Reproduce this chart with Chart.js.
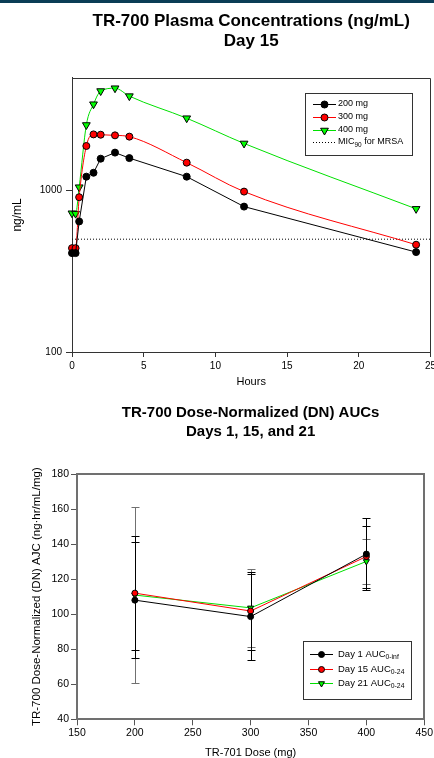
<!DOCTYPE html>
<html>
<head>
<meta charset="utf-8">
<script src="https://cdn.jsdelivr.net/npm/chart.js"></script>
<style>
  html, body { margin: 0; padding: 0; background: #fff; overflow: hidden; width: 434px; height: 758px; }
  #bar { position: absolute; left: 0; top: 0; width: 434px; height: 3px; background: #0b3d56; z-index: 2; }
  #plasma { position: absolute; left: 0; top: 0; }
  #auc { position: absolute; left: 0; top: 392px; }
</style>
</head>
<body>
<div id="bar"></div>
<canvas id="plasma" width="439" height="395"></canvas>
<canvas id="auc" width="435" height="372"></canvas>
<script>
// Day 15 plasma concentrations (ng/mL)
const hours = [0, 0.25, 0.5, 1, 1.5, 2, 3, 4, 8, 12, 24];
const conc200 = [410, 410, 644, 1220, 1290, 1577, 1720, 1590, 1220, 796, 416];
const conc300 = [440, 440, 910, 1890, 2230, 2220, 2200, 2160, 1490, 986, 462];
const conc400 = [724, 720, 1050, 2550, 3430, 4140, 4310, 3850, 2810, 1960, 771];
const micHours = [0, 25];
const mic90 = [500, 500];
const doseLabels = ['200 mg', '300 mg', '400 mg'];
const micLabel = ['MIC', '90', ' for MRSA'];
const plasmaYTicks = [100, 1000];

// dose-normalized AUCs (ng·hr/mL/mg)
const doses = [200, 300, 400];
const day1Auc = [108, 98.6, 134.3];
const day1Sd = [33, 24.5, 20.4];
const day15Auc = [112, 101.8, 132.9];
const day15Sd = [32.5, 22.4, 17.7];
const day21Auc = [110.9, 103.6, 130.1];
const day21Sd = [50.3, 22.3, 13];
const aucLabels = [['Day 1 AUC', '0-inf'], ['Day 15 AUC', '0-24'], ['Day 21 AUC', '0-24']];

const FONT = 'Arial, "Liberation Sans", Helvetica, sans-serif';
Chart.defaults.font.family = FONT;
Chart.defaults.color = '#000';

const pts = (xs, ys) => xs.map((x, i) => ({ x: x, y: ys[i] }));

// top + right edges of the plot box
const frame = {
  id: 'frame',
  beforeDatasetsDraw(chart, args, opts) {
    const a = chart.chartArea, ctx = chart.ctx;
    ctx.save();
    ctx.strokeStyle = opts.color;
    ctx.lineWidth = opts.width;
    const off = opts.width % 2 ? 0.5 : 0;
    const t = Math.round(a.top) + off, r = Math.round(a.right) + off;
    ctx.beginPath();
    ctx.moveTo(Math.round(a.left), t);
    ctx.lineTo(r, t);
    ctx.lineTo(r, Math.round(a.bottom));
    ctx.stroke();
    ctx.restore();
  }
};

const errorBars = {
  id: 'errorBars',
  beforeDatasetsDraw(chart) {
    const ctx = chart.ctx, xs = chart.scales.x, ys = chart.scales.y;
    const list = chart.data.datasets.slice().reverse();
    list.forEach(ds => {
      if (!ds.errors) return;
      ctx.save();
      ctx.strokeStyle = ds.errorColor;
      ctx.lineWidth = 1;
      ds.data.forEach((p, j) => {
        const px = Math.round(xs.getPixelForValue(p.x)) + 0.5;
        const hi = Math.round(ys.getPixelForValue(p.y + ds.errors[j])) + 0.5;
        const lo = Math.round(ys.getPixelForValue(p.y - ds.errors[j])) + 0.5;
        ctx.beginPath();
        ctx.moveTo(px, hi); ctx.lineTo(px, lo);
        ctx.moveTo(px - 4, hi); ctx.lineTo(px + 4, hi);
        ctx.moveTo(px - 4, lo); ctx.lineTo(px + 4, lo);
        ctx.stroke();
      });
      ctx.restore();
    });
  }
};

// legend box with subscripts
const boxLegend = {
  id: 'boxLegend',
  afterDraw(chart, args, o) {
    const ctx = chart.ctx;
    ctx.save();
    ctx.fillStyle = '#fff';
    ctx.fillRect(o.x, o.y, o.w, o.h);
    ctx.strokeStyle = '#333';
    ctx.lineWidth = 1;
    ctx.strokeRect(o.x + 0.5, o.y + 0.5, o.w, o.h);
    o.rows.forEach((row, i) => {
      const y = o.rowY[i];
      const ds = chart.data.datasets[i];
      ctx.strokeStyle = ds.borderColor;
      ctx.lineWidth = 1;
      ctx.setLineDash(ds.borderDash || []);
      ctx.beginPath();
      ctx.moveTo(o.lineX0, y + 0.5);
      ctx.lineTo(o.lineX1, y + 0.5);
      ctx.stroke();
      ctx.setLineDash([]);
      if (ds.pointRadius > 0) {
        ctx.fillStyle = ds.pointBackgroundColor;
        ctx.strokeStyle = '#000';
        Chart.helpers.drawPoint(ctx, {
          pointStyle: ds.pointStyle || 'circle',
          rotation: ds.pointRotation || 0,
          radius: ds.pointRadius,
          borderWidth: 1
        }, (o.lineX0 + o.lineX1) / 2, y + 0.5);
      }
      ctx.fillStyle = '#000';
      ctx.textBaseline = 'middle';
      ctx.font = o.size + 'px ' + FONT;
      let x = o.textX;
      ctx.fillText(row[0], x, y);
      x += ctx.measureText(row[0]).width;
      if (row[1]) {
        ctx.font = (o.size * 0.72) + 'px ' + FONT;
        ctx.fillText(row[1], x, y + o.size * 0.35);
        x += ctx.measureText(row[1]).width;
      }
      if (row[2]) {
        ctx.font = o.size + 'px ' + FONT;
        ctx.fillText(row[2], x, y);
      }
    });
    ctx.restore();
  }
};

new Chart(document.getElementById('plasma'), {
  type: 'line',
  data: {
    datasets: [
      { label: doseLabels[0], data: pts(hours, conc200), borderColor: '#000', pointBackgroundColor: '#000',
        pointBorderColor: '#000', pointRadius: 3.5, borderWidth: 1, tension: 0, clip: false },
      { label: doseLabels[1], data: pts(hours, conc300), borderColor: '#ff0000', pointBackgroundColor: '#ff0000',
        pointBorderColor: '#000', pointRadius: 3.5, borderWidth: 1, cubicInterpolationMode: 'monotone', clip: false },
      { label: doseLabels[2], data: pts(hours, conc400), borderColor: '#00e000', pointBackgroundColor: '#00ff00',
        pointBorderColor: '#000', pointStyle: 'triangle', pointRotation: 180, pointRadius: 4.5, borderWidth: 1,
        cubicInterpolationMode: 'monotone', clip: false },
      { label: micLabel.join(''), data: pts(micHours, mic90), borderColor: '#000', borderDash: [1, 2],
        borderWidth: 1, pointRadius: 0 }
    ]
  },
  options: {
    responsive: false,
    animation: false,
    plugins: {
      legend: { display: false },
      tooltip: { enabled: false },
      title: {
        display: true, fullSize: false, color: '#000',
        text: ['TR-700 Plasma Concentrations (ng/mL)', 'Day 15'],
        font: { size: 17, weight: 'bold', lineHeight: 1.2 },
        padding: { top: 11, bottom: 26 }
      },
      frame: { color: '#333', width: 1 },
      boxLegend: {
        x: 305, y: 93, w: 107, h: 62, rowY: [104, 117, 130, 142],
        lineX0: 313, lineX1: 336, textX: 338, size: 9,
        rows: [[doseLabels[0]], [doseLabels[1]], [doseLabels[2]], micLabel]
      }
    },
    scales: {
      x: {
        type: 'linear', min: 0, max: 25,
        ticks: { stepSize: 5, font: { size: 10 }, padding: 3, maxRotation: 0, color: '#000' },
        grid: { drawOnChartArea: false, tickLength: 5, color: '#333' },
        border: { color: '#333' },
        title: { display: true, text: 'Hours', font: { size: 11 }, padding: { top: 0, bottom: 6 } },
        afterFit: s => { s.height = 43; }
      },
      y: {
        type: 'logarithmic', min: 100, max: 5000,
        afterBuildTicks: s => { s.ticks = plasmaYTicks.map(v => ({ value: v })); },
        ticks: { callback: v => String(v), font: { size: 10 }, padding: 4, color: '#000' },
        grid: { drawOnChartArea: false, tickLength: 6, color: '#333' },
        border: { color: '#333' },
        title: { display: true, text: 'ng/mL', font: { size: 12 }, padding: { top: 10, bottom: 0 } },
        afterFit: s => { s.width = 72; }
      }
    }
  },
  plugins: [frame, boxLegend]
});

new Chart(document.getElementById('auc'), {
  type: 'line',
  data: {
    datasets: [
      { label: 'Day 1', data: pts(doses, day1Auc), errors: day1Sd, errorColor: '#000', borderColor: '#000',
        pointBackgroundColor: '#000', pointBorderColor: '#000', pointRadius: 3, borderWidth: 1, clip: false },
      { label: 'Day 15', data: pts(doses, day15Auc), errors: day15Sd, errorColor: '#000', borderColor: '#ff0000',
        pointBackgroundColor: '#ff0000', pointBorderColor: '#000', pointRadius: 3, borderWidth: 1, clip: false },
      { label: 'Day 21', data: pts(doses, day21Auc), errors: day21Sd, errorColor: '#707070', borderColor: '#00e000',
        pointBackgroundColor: '#00ff00', pointBorderColor: '#000', pointStyle: 'triangle', pointRotation: 180,
        pointRadius: 3.5, borderWidth: 1, clip: false }
    ]
  },
  options: {
    responsive: false,
    animation: false,
    plugins: {
      legend: { display: false },
      tooltip: { enabled: false },
      title: {
        display: true, fullSize: false, color: '#000',
        text: ['TR-700 Dose-Normalized (DN) AUCs', 'Days 1, 15, and 21'],
        font: { size: 15, weight: 'bold', lineHeight: 1.3 },
        padding: { top: 11, bottom: 32 }
      },
      frame: { color: '#707070', width: 2 },
      boxLegend: {
        x: 303, y: 249, w: 108, h: 58, rowY: [262, 277, 291],
        lineX0: 310, lineX1: 333, textX: 338, size: 9.5,
        rows: aucLabels
      }
    },
    scales: {
      x: {
        type: 'linear', min: 150, max: 450,
        ticks: { stepSize: 50, font: { size: 10.5 }, padding: 2, maxRotation: 0, color: '#000' },
        grid: { drawOnChartArea: false, tickLength: 6, color: '#555' },
        border: { color: '#707070', width: 2 },
        title: { display: true, text: 'TR-701 Dose (mg)', font: { size: 11 }, padding: { top: 0, bottom: 4 } },
        afterFit: s => { s.height = 44.7; }
      },
      y: {
        min: 40, max: 180,
        ticks: { stepSize: 20, font: { size: 10.5 }, padding: 2, color: '#000' },
        grid: { drawOnChartArea: false, tickLength: 6, color: '#555' },
        border: { color: '#707070', width: 2 },
        title: { display: true, text: 'TR-700 Dose-Normalized (DN) AJC (ng·hr/mL/mg)', font: { size: 11.5 },
          padding: { top: 30, bottom: 0 } },
        afterFit: s => { s.width = 77; }
      }
    }
  },
  plugins: [frame, errorBars, boxLegend]
});
</script>
</body>
</html>
